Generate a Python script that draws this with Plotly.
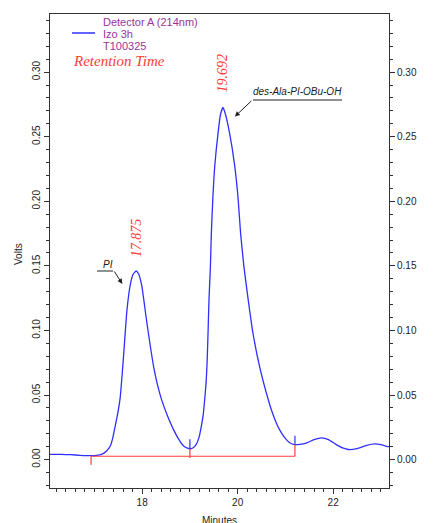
import plotly.graph_objects as go

# ---- data ----
time_min = [16.07, 16.3, 16.5, 16.7, 16.9, 17.05, 17.15, 17.25, 17.33, 17.38, 17.43, 17.48,
            17.54, 17.61, 17.68, 17.75, 17.81, 17.875, 17.93, 17.99, 18.03, 18.08, 18.13,
            18.24, 18.32, 18.41, 18.53, 18.66, 18.77, 18.87, 18.95, 19.0, 19.06, 19.13,
            19.19, 19.24, 19.28, 19.31, 19.34, 19.36, 19.38, 19.40, 19.43, 19.45, 19.48,
            19.52, 19.59, 19.64, 19.692, 19.74, 19.83, 19.94, 20.01, 20.06, 20.13, 20.22,
            20.32, 20.46, 20.64, 20.72, 20.81, 20.91, 21.02, 21.1, 21.19, 21.3, 21.45, 21.6,
            21.76, 21.9, 22.05, 22.2, 22.32, 22.5, 22.7, 22.88, 23.0, 23.12, 23.17]
volts = [0.0040, 0.0040, 0.0038, 0.0033, 0.0030, 0.0032, 0.0040, 0.0065, 0.0103, 0.016,
         0.025, 0.034, 0.048, 0.080, 0.115, 0.135, 0.1435, 0.146, 0.1435, 0.135, 0.125,
         0.111, 0.098, 0.072, 0.058, 0.046, 0.034, 0.023, 0.0155, 0.0105, 0.0088, 0.0084,
         0.0090, 0.0116, 0.017, 0.026, 0.035, 0.0465, 0.060, 0.075, 0.098, 0.124, 0.150,
         0.176, 0.202, 0.227, 0.253, 0.267, 0.2726, 0.268, 0.253, 0.227, 0.202, 0.176,
         0.150, 0.124, 0.098, 0.072, 0.0465, 0.037, 0.0284, 0.021, 0.0155, 0.0128, 0.0116,
         0.0117, 0.0130, 0.0155, 0.0168, 0.0155, 0.0120, 0.0090, 0.0078, 0.0085, 0.0110,
         0.0121, 0.0115, 0.0103, 0.0100]

peak_times = [17.875, 19.692]
peak_heights = [0.146, 0.2726]
peak_labels = ["17.875", "19.692"]
peak_names = ["PI", "des-Ala-PI-OBu-OH"]

baseline_start, baseline_end, baseline_level = 16.93, 21.2, 0.0026
event_times = [16.93, 19.0, 21.2]
event_curve = [0.0026, 0.0084, 0.0116]
event_low = [-0.004, 0.0013, 0.0026]
event_high = [0.0158, 0.0184]

x_range = [16.07, 23.17]
y_range = [-0.022, 0.345]

BLUE = "#2f2fff"
RED = "#ff3b3b"
PURPLE = "#993399"
AX = "#333333"
FONT = "Liberation Sans"

fig = go.Figure()
fig.add_trace(go.Scatter(x=time_min, y=volts, mode="lines",
                         line=dict(color=BLUE, width=1.3, shape="spline", smoothing=0.5),
                         hoverinfo="skip"))

# integration baseline and event marks (red)
rx, ry = [baseline_start, baseline_end, None], [baseline_level, baseline_level, None]
for t, hi, lo in zip(event_times, event_curve, event_low):
    rx += [t, t, None]
    ry += [hi, lo, None]
fig.add_trace(go.Scatter(x=rx, y=ry, mode="lines", line=dict(color=RED, width=1.2),
                         hoverinfo="skip", yaxis="y2"))
bx, by = [], []
for t, lo, hi in zip(event_times[1:], event_curve[1:], event_high):
    bx += [t, t, None]
    by += [lo, hi, None]
fig.add_trace(go.Scatter(x=bx, y=by, mode="lines", line=dict(color=BLUE, width=1.2),
                         hoverinfo="skip"))

axis_common = dict(showline=True, linecolor=AX, linewidth=1, showgrid=False, zeroline=False,
                   ticks="outside", ticklen=5, tickcolor=AX, automargin=False,
                   tickfont=dict(family=FONT, size=10, color="#222"))

# the page body adds an 8px offset, so margins are set to land the plot area
# at screen pixels x 50..389, y 14..488
fig.update_layout(
    width=441, height=523, autosize=False, showlegend=False,
    margin=dict(l=42, r=60, t=6, b=43, autoexpand=False),
    paper_bgcolor="white", plot_bgcolor="white",
    xaxis=dict(range=x_range, dtick=2, tick0=0, mirror=True,
               minor=dict(dtick=0.2, tick0=0, ticklen=3, ticks="outside", tickcolor=AX, showgrid=False),
               **axis_common),
    yaxis=dict(range=y_range, dtick=0.05, tick0=0, tickformat=".2f", tickangle=-90,
               minor=dict(dtick=0.01, tick0=0, ticklen=3, ticks="outside", tickcolor=AX, showgrid=False),
               **axis_common),
    yaxis2=dict(range=y_range, dtick=0.05, tick0=0, tickformat=".2f", overlaying="y", side="right",
                minor=dict(dtick=0.01, tick0=0, ticklen=3, ticks="outside", tickcolor=AX, showgrid=False),
                **axis_common),
)

def px_x(p):
    return (p - 50) / 339.0

def px_y(p):
    return (488 - p) / 474.0

ann = []
# legend-like header
for txt, ypx in [("Detector A (214nm)", 22), ("Izo 3h", 34), ("T100325", 46)]:
    ann.append(dict(xref="paper", yref="paper", x=px_x(101), y=px_y(ypx), text=txt,
                    showarrow=False, xanchor="left", yanchor="middle",
                    font=dict(family=FONT, size=11, color=PURPLE)))
fig.add_shape(type="line", xref="paper", yref="paper", x0=px_x(72), x1=px_x(95),
              y0=px_y(33), y1=px_y(33), line=dict(color=BLUE, width=1.5))
ann.append(dict(xref="paper", yref="paper", x=px_x(71), y=px_y(61), text="<i>Retention Time</i>",
                showarrow=False, xanchor="left", yanchor="middle",
                font=dict(family="Liberation Serif", size=15, color=RED)))

# retention time labels
for t, h, lab, gap in zip(peak_times, peak_heights, peak_labels, [33, 35]):
    ann.append(dict(x=t, y=h, text="<i>" + lab + "</i>", textangle=-90, showarrow=False,
                    xanchor="center", yanchor="middle", yshift=gap,
                    font=dict(family="Liberation Serif", size=14, color=RED)))

# peak name callouts
ann.append(dict(x=peak_times[0] - 0.29, y=peak_heights[0] - 0.010, ax=-9, ay=-14, text="",
                showarrow=True, arrowhead=2, arrowsize=1, arrowwidth=1, arrowcolor="#222"))
ann.append(dict(xref="paper", yref="paper", x=px_x(108), y=px_y(264), text="<i>" + peak_names[0] + "</i>",
                showarrow=False, xanchor="center", yanchor="middle",
                font=dict(family=FONT, size=10, color="#222")))
fig.add_shape(type="line", xref="paper", yref="paper", x0=px_x(97), x1=px_x(113),
              y0=px_y(271), y1=px_y(271), line=dict(color="#222", width=1))

ann.append(dict(x=peak_times[1] + 0.25, y=peak_heights[1] - 0.007, ax=18, ay=-17, text="",
                showarrow=True, arrowhead=2, arrowsize=1, arrowwidth=1, arrowcolor="#222"))
ann.append(dict(xref="paper", yref="paper", x=px_x(297), y=px_y(91), text="<i>" + peak_names[1] + "</i>",
                showarrow=False, xanchor="center", yanchor="middle",
                font=dict(family=FONT, size=10, color="#222")))
fig.add_shape(type="line", xref="paper", yref="paper", x0=px_x(253), x1=px_x(342),
              y0=px_y(100), y1=px_y(100), line=dict(color="#222", width=1))

# axis titles (the reference crops these at the page edges)
ann.append(dict(xref="paper", yref="paper", x=px_x(18), y=px_y(254), text="Volts", textangle=-90,
                showarrow=False, xanchor="center", yanchor="middle",
                font=dict(family=FONT, size=10, color="#222")))
ann.append(dict(xref="paper", yref="paper", x=px_x(443), y=px_y(254), text="Volts", textangle=90,
                showarrow=False, xanchor="center", yanchor="middle",
                font=dict(family=FONT, size=10, color="#222")))
ann.append(dict(xref="paper", yref="paper", x=px_x(219), y=px_y(520), text="Minutes",
                showarrow=False, xanchor="center", yanchor="middle",
                font=dict(family=FONT, size=10, color="#222")))

fig.update_layout(annotations=ann)
fig.write_html("out.html")
